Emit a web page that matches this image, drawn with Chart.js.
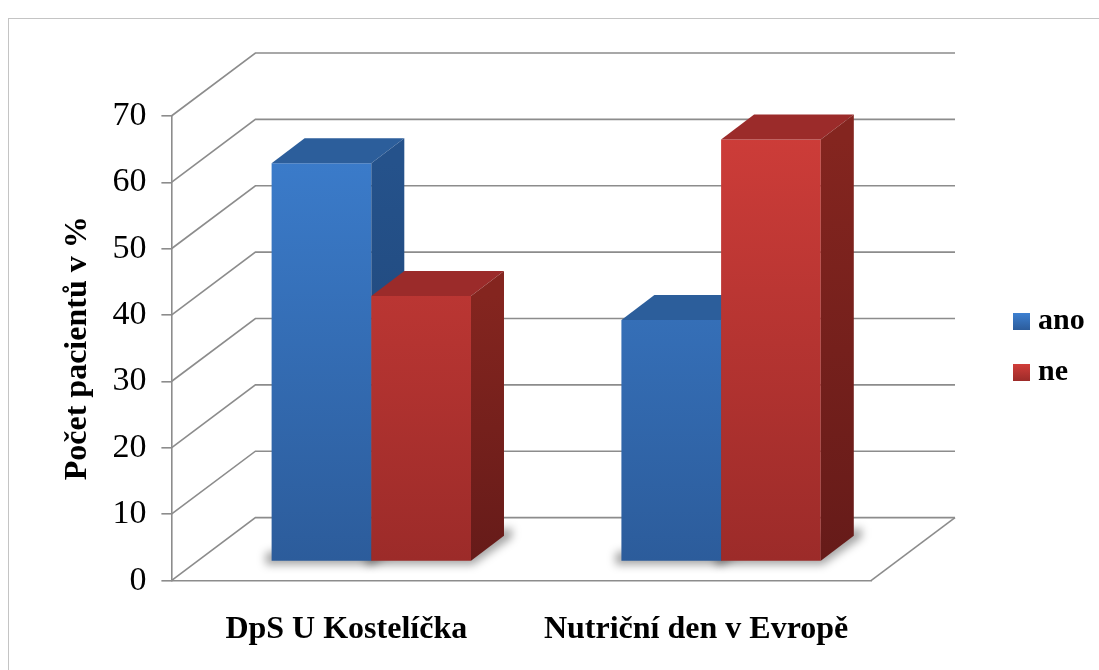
<!DOCTYPE html>
<html>
<head>
<meta charset="utf-8">
<script src="https://cdn.jsdelivr.net/npm/chart.js@4.4.0/dist/chart.umd.min.js"></script>
<style>
  body { margin: 0; background: #fff; }
  canvas { display: block; }
</style>
</head>
<body>
<canvas id="graf_pacienti" width="1099" height="670"></canvas>
<script>
const kategorie = ["DpS U Kostelíčka", "Nutriční den v Evropě"];
const ano = [60, 36.4];
const ne = [40, 63.6];
const osaY = [0, 10, 20, 30, 40, 50, 60, 70];

// 3D posuny (px): zadni stena, celo sloupcu, hloubka sloupcu
const STENA = [84, -63];
const CELO = [25, -19];
const SLOUPEC = [33, -25];
const SEDA = "#8c8c8c";
const PISMO = "'Liberation Serif', 'Times New Roman', serif";

const barvy = [
  { celo: ["#3d80d1", "#2c5c9b"], vrch: "#2c5e9b", bok: ["#25528b", "#1d4272"] },
  { celo: ["#d13e3a", "#9c2b29"], vrch: "#9b2b2a", bok: ["#84251f", "#661b19"] },
];

function prechod(chart, stops) {
  const a = chart.chartArea;
  if (!a) return stops[0];
  const g = chart.ctx.createLinearGradient(0, a.top, 0, a.bottom);
  g.addColorStop(0, stops[0]);
  g.addColorStop(1, stops[1]);
  return g;
}

const prostor = {
  id: "prostor",
  beforeDraw(chart) {
    const c = chart.ctx;
    c.save();
    c.fillStyle = "#fff";
    c.fillRect(0, 0, chart.width, chart.height);
    c.strokeStyle = "#c4c4c4";
    c.lineWidth = 1;
    c.strokeRect(8.5, 18.5, chart.width, chart.height);
    c.restore();
  },
  beforeDatasetsDraw(chart) {
    const c = chart.ctx, a = chart.chartArea, y = chart.scales.y;
    c.save();
    c.strokeStyle = SEDA;
    c.lineWidth = 1.6;
    y.ticks.forEach((t) => {
      const py = y.getPixelForValue(t.value);
      c.beginPath();
      c.moveTo(a.left, py);
      c.lineTo(a.left + STENA[0], py + STENA[1]);
      c.lineTo(a.right + STENA[0], py + STENA[1]);
      c.stroke();
    });
    c.beginPath();
    c.moveTo(a.right, a.bottom);
    c.lineTo(a.right + STENA[0], a.bottom + STENA[1]);
    c.stroke();

    // stiny pod sloupci
    c.translate(CELO[0], CELO[1]);
    c.filter = "blur(4px)";
    c.fillStyle = "rgba(0,0,0,0.35)";
    chart.data.datasets.forEach((ds, i) => {
      chart.getDatasetMeta(i).data.forEach((bar) => {
        const l = bar.x - bar.width / 2, r = bar.x + bar.width / 2, b = bar.base;
        c.beginPath();
        c.moveTo(l - 6, b + 4);
        c.lineTo(r + 2, b + 4);
        c.lineTo(r + SLOUPEC[0] + 8, b + SLOUPEC[1] + 2);
        c.lineTo(r + SLOUPEC[0] + 8, b + SLOUPEC[1] - 8);
        c.lineTo(l - 6, b - 8);
        c.closePath();
        c.fill();
      });
    });
    c.restore();
  },
  beforeDatasetDraw() {
    // sloupce kreslime sami az v afterDatasetsDraw, aby se prekryvaly zleva doprava
    return false;
  },
  afterDatasetsDraw(chart) {
    const c = chart.ctx;
    const [dx, dy] = SLOUPEC;
    c.save();
    c.translate(CELO[0], CELO[1]);
    chart.data.datasets.forEach((ds, i) => {
      chart.getDatasetMeta(i).data.forEach((bar) => {
        bar.draw(c);
        const l = bar.x - bar.width / 2, r = bar.x + bar.width / 2;
        const top = bar.y, base = bar.base;
        c.fillStyle = barvy[i].vrch;
        c.beginPath();
        c.moveTo(l, top);
        c.lineTo(l + dx, top + dy);
        c.lineTo(r + dx, top + dy);
        c.lineTo(r, top);
        c.closePath();
        c.fill();
        const g = c.createLinearGradient(0, top, 0, base);
        g.addColorStop(0, barvy[i].bok[0]);
        g.addColorStop(1, barvy[i].bok[1]);
        c.fillStyle = g;
        c.beginPath();
        c.moveTo(r, top);
        c.lineTo(r + dx, top + dy);
        c.lineTo(r + dx, base + dy);
        c.lineTo(r, base);
        c.closePath();
        c.fill();
      });
    });
    c.restore();
  },
  afterDraw(chart) {
    // legenda vpravo
    const c = chart.ctx;
    const stredy = [321, 372];
    c.save();
    c.font = "bold 30px " + PISMO;
    c.textBaseline = "middle";
    chart.data.datasets.forEach((ds, i) => {
      const yy = stredy[i];
      const g = c.createLinearGradient(0, yy - 8, 0, yy + 9);
      g.addColorStop(0, barvy[i].celo[0]);
      g.addColorStop(1, barvy[i].celo[1]);
      c.fillStyle = g;
      c.fillRect(1013, yy - 8, 17, 17);
      c.fillStyle = "#000";
      c.fillText(ds.label, 1038, yy);
    });
    c.restore();
  },
};

const ctx = document.getElementById("graf_pacienti");
const graf = new Chart(ctx, {
  type: "bar",
  data: {
    labels: kategorie,
    datasets: [
      {
        label: "ano",
        data: ano,
        backgroundColor: (k) => prechod(k.chart, barvy[0].celo),
        borderWidth: 0,
      },
      {
        label: "ne",
        data: ne,
        backgroundColor: (k) => prechod(k.chart, barvy[1].celo),
        borderWidth: 0,
      },
    ],
  },
  options: {
    responsive: false,
    animation: false,
    layout: {
      padding: { left: 22, right: 228, top: 116, bottom: -9 },
    },
    datasets: {
      bar: { barPercentage: 1, categoryPercentage: 0.57 },
    },
    scales: {
      x: {
        grid: { display: false, drawTicks: false },
        border: { display: true, color: SEDA, width: 1.6 },
        ticks: {
          color: "#000",
          padding: 30,
          font: { family: PISMO, size: 32, weight: "bold" },
        },
      },
      y: {
        min: osaY[0],
        max: osaY[osaY.length - 1],
        afterBuildTicks: (osa) => {
          osa.ticks = osaY.map((v) => ({ value: v }));
        },
        grid: {
          drawOnChartArea: false,
          drawTicks: true,
          tickLength: 10,
          color: SEDA,
          lineWidth: 1.6,
        },
        border: { display: true, color: SEDA, width: 1.6 },
        ticks: {
          color: "#000",
          padding: 15,
          font: { family: PISMO, size: 34 },
        },
        title: {
          display: true,
          text: "Počet pacientů v %",
          color: "#000",
          padding: { top: 37, bottom: 0 },
          font: { family: PISMO, size: 32, weight: "bold" },
        },
      },
    },
    plugins: {
      legend: { display: false },
      tooltip: { enabled: false },
    },
  },
  plugins: [prostor],
});
</script>
</body>
</html>
